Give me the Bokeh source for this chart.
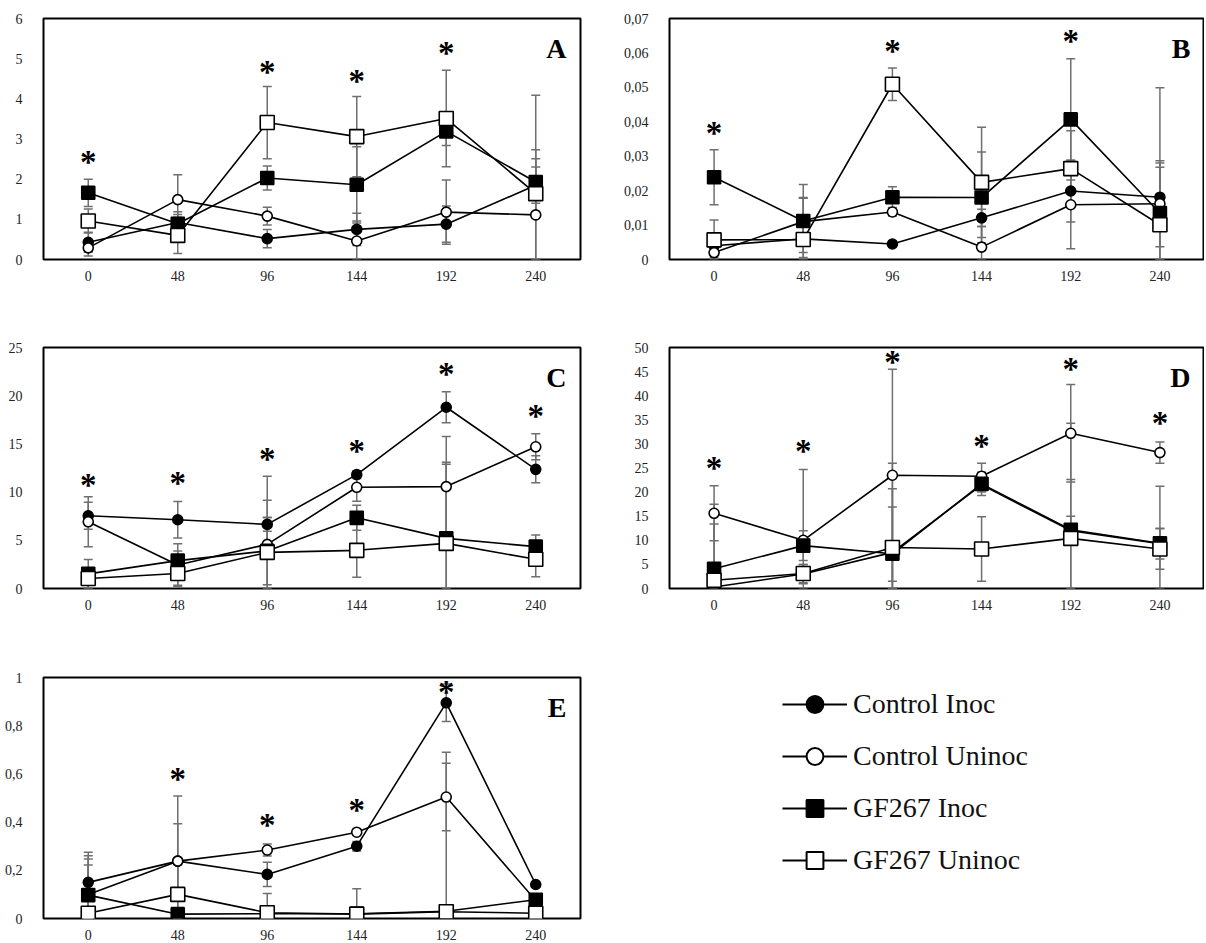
from bokeh.plotting import figure
from bokeh.models import (Range1d, FixedTicker, Whisker, TeeHead, ColumnDataSource,
                          Label, Legend, LegendItem, CustomJSTickFormatter)
from bokeh.layouts import column, row
from bokeh.embed import file_html
from bokeh.resources import INLINE
from bokeh.core.properties import value

# ---------------- data ----------------
hours = [0, 48, 96, 144, 192, 240]
series_names = ["Control Inoc", "Control Uninoc", "GF267 Inoc", "GF267 Uninoc"]

# Panel A
A_ctrl_inoc = [0.43, 0.92, 0.52, 0.75, 0.88, 1.85]
A_ctrl_inoc_sd = [0.25, 0.20, 0.23, 0.40, 0.45, 0.45]
A_ctrl_uninoc = [0.29, 1.49, 1.08, 0.46, 1.18, 1.11]
A_ctrl_uninoc_sd = [0.20, 0.62, 0.22, 0.50, 0.80, 1.40]
A_gf_inoc = [1.66, 0.89, 2.03, 1.86, 3.19, 1.93]
A_gf_inoc_sd = [0.34, 0.30, 0.30, 0.95, 0.35, 0.80]
A_gf_uninoc = [0.96, 0.60, 3.41, 3.06, 3.51, 1.64]
A_gf_uninoc_sd = [0.30, 0.45, 0.90, 1.00, 1.20, 2.45]
A_sig_x = [0, 96, 144, 192]
A_sig_y = [2.53, 4.78, 4.55, 5.24]
A_yticks = [0, 1, 2, 3, 4, 5, 6]

# Panel B
B_ctrl_inoc = [0.004, 0.006, 0.0045, 0.0121, 0.0199, 0.0181]
B_ctrl_inoc_sd = [0.002, 0.004, 0.0008, 0.0025, 0.009, 0.0087]
B_ctrl_uninoc = [0.002, 0.011, 0.0138, 0.0036, 0.0159, 0.0162]
B_ctrl_uninoc_sd = [0.0015, 0.007, 0.0012, 0.006, 0.0128, 0.0125]
B_gf_inoc = [0.0239, 0.0112, 0.0181, 0.018, 0.0407, 0.0135]
B_gf_inoc_sd = [0.008, 0.0106, 0.003, 0.0132, 0.0176, 0.0145]
B_gf_uninoc = [0.0057, 0.0058, 0.0509, 0.0224, 0.0264, 0.0101]
B_gf_uninoc_sd = [0.0058, 0.012, 0.0047, 0.016, 0.011, 0.0398]
B_sig_x = [0, 96, 192]
B_sig_y = [0.038, 0.0616, 0.0647]
B_yticks = [0, 0.01, 0.02, 0.03, 0.04, 0.05, 0.06, 0.07]

# Panel C
C_ctrl_inoc = [7.54, 7.13, 6.65, 11.81, 18.8, 12.36]
C_ctrl_inoc_sd = [1.4, 1.9, 0.7, 0.4, 1.6, 1.4]
C_ctrl_uninoc = [6.92, 2.44, 4.58, 10.5, 10.57, 14.7]
C_ctrl_uninoc_sd = [2.6, 2.2, 7.06, 1.45, 5.2, 1.35]
C_gf_inoc = [1.52, 2.89, 3.9, 7.33, 5.2, 4.34]
C_gf_inoc_sd = [1.5, 1.0, 3.5, 1.3, 7.9, 1.2]
C_gf_uninoc = [1.03, 1.55, 3.75, 3.96, 4.68, 3.03]
C_gf_uninoc_sd = [1.0, 1.2, 5.4, 2.8, 8.2, 1.8]
C_sig_x = [0, 48, 96, 144, 192, 240]
C_sig_y = [11.2, 11.4, 13.9, 14.7, 22.7, 18.3]
C_yticks = [0, 5, 10, 15, 20, 25]

# Panel D
D_ctrl_inoc = [0.3, 3.0, 7.5, 21.5, 12.0, 9.3]
D_ctrl_inoc_sd = [17.2, 2.0, 9.4, 1.5, 3.0, 3.2]
D_ctrl_uninoc = [15.6, 10.0, 23.5, 23.3, 32.2, 28.2]
D_ctrl_uninoc_sd = [5.7, 14.7, 22.0, 2.7, 10.1, 2.2]
D_gf_inoc = [4.1, 8.9, 7.2, 21.7, 12.2, 9.4]
D_gf_inoc_sd = [9.3, 3.1, 13.5, 2.4, 22.1, 11.8]
D_gf_uninoc = [1.7, 3.1, 8.5, 8.2, 10.4, 8.2]
D_gf_uninoc_sd = [2.0, 1.9, 17.5, 6.7, 12.2, 4.2]
D_sig_x = [0, 48, 96, 144, 192, 240]
D_sig_y = [25.9, 29.3, 47.8, 30.4, 46.3, 35.2]
D_yticks = [0, 5, 10, 15, 20, 25, 30, 35, 40, 45, 50]

# Panel E
E_ctrl_inoc = [0.15, 0.238, 0.183, 0.30, 0.895, 0.141]
E_ctrl_inoc_sd = [0.125, 0.155, 0.05, 0.02, 0.078, 0.01]
E_ctrl_uninoc = [0.10, 0.238, 0.284, 0.358, 0.504, 0.075]
E_ctrl_uninoc_sd = [0.16, 0.27, 0.025, 0.01, 0.14, 0.01]
E_gf_inoc = [0.097, 0.018, 0.02, 0.02, 0.03, 0.078]
E_gf_inoc_sd = [0.15, 0.02, 0.01, 0.01, 0.66, 0.01]
E_gf_uninoc = [0.022, 0.10, 0.024, 0.018, 0.028, 0.022]
E_gf_uninoc_sd = [0.20, 0.15, 0.08, 0.105, 0.01, 0.005]
E_sig_x = [48, 96, 144, 192]
E_sig_y = [0.596, 0.404, 0.466, 0.955]
E_yticks = [0, 0.2, 0.4, 0.6, 0.8, 1]

# ---------------- styles ----------------
FONT = "Liberation Serif"
ERR_COLOR = "#6f6f6f"
STYLES = [
    dict(marker="circle", size=10, fill_color="black"),
    dict(marker="circle", size=10, fill_color="white"),
    dict(marker="square", size=13, fill_color="black"),
    dict(marker="square", size=14, fill_color="white"),
]

comma_fmt = CustomJSTickFormatter(code="return String(tick).replace('.', ',');")


def make_panel(letter, ymax, yticks, means, sds, sig_x, sig_y,
               frame_w, left, right, top, bottom, xstand):
    p = figure(frame_width=frame_w, frame_height=241,
               x_range=Range1d(-24, 264), y_range=Range1d(0, ymax),
               output_backend="svg", toolbar_location=None,
               min_border_left=left, min_border_right=right,
               min_border_top=top, min_border_bottom=bottom)
    p.xgrid.visible = False
    p.ygrid.visible = False
    p.outline_line_color = "black"
    p.outline_line_width = 2
    p.background_fill_color = "white"
    p.border_fill_color = "white"
    for ax in (p.xaxis[0], p.yaxis[0]):
        ax.axis_line_color = None
        ax.major_tick_line_color = None
        ax.minor_tick_line_color = None
        ax.major_label_text_font = FONT
        ax.major_label_text_font_size = "14px"
        ax.major_label_text_color = "#222222"
    p.xaxis.ticker = FixedTicker(ticks=hours)
    p.xaxis.major_label_standoff = xstand
    p.yaxis.ticker = FixedTicker(ticks=yticks)
    p.yaxis.formatter = comma_fmt
    p.yaxis.major_label_standoff = 15

    # error bars
    for m, s in zip(means, sds):
        src = ColumnDataSource(dict(
            x=hours,
            upper=[a + b for a, b in zip(m, s)],
            lower=[max(0.0, a - b) for a, b in zip(m, s)]))
        w = Whisker(base="x", upper="upper", lower="lower", source=src,
                    line_color=ERR_COLOR, line_width=1.5,
                    upper_head=TeeHead(size=9, line_color=ERR_COLOR, line_width=1.5),
                    lower_head=TeeHead(size=9, line_color=ERR_COLOR, line_width=1.5))
        p.add_layout(w)

    # lines + markers
    for m, st in zip(means, STYLES):
        p.line(hours, m, line_color="black", line_width=1.6)
    for m, st in zip(means, STYLES):
        p.scatter(hours, m, marker=st["marker"], size=st["size"],
                  fill_color=st["fill_color"], line_color="black", line_width=1.6)

    # significance asterisks
    p.text(x=sig_x, y=sig_y, text=["*"] * len(sig_x), text_font=value(FONT),
           text_font_style="bold", text_font_size="33px", text_align="center",
           text_baseline="alphabetic", y_offset=4, text_color="black")

    # panel letter
    p.add_layout(Label(x=264, y=ymax, x_offset=-14, y_offset=-14, text=letter,
                       text_font=FONT, text_font_style="bold",
                       text_font_size="28px", text_align="right",
                       text_baseline="top", text_color="black"))
    return p


pA = make_panel("A", 6, A_yticks,
                [A_ctrl_inoc, A_ctrl_uninoc, A_gf_inoc, A_gf_uninoc],
                [A_ctrl_inoc_sd, A_ctrl_uninoc_sd, A_gf_inoc_sd, A_gf_uninoc_sd],
                A_sig_x, A_sig_y, 537, 43, 10, 18, 40, 5)
pB = make_panel("B", 0.07, B_yticks,
                [B_ctrl_inoc, B_ctrl_uninoc, B_gf_inoc, B_gf_uninoc],
                [B_ctrl_inoc_sd, B_ctrl_uninoc_sd, B_gf_inoc_sd, B_gf_uninoc_sd],
                B_sig_x, B_sig_y, 535, 79, 0, 18, 40, 5)
pC = make_panel("C", 25, C_yticks,
                [C_ctrl_inoc, C_ctrl_uninoc, C_gf_inoc, C_gf_uninoc],
                [C_ctrl_inoc_sd, C_ctrl_uninoc_sd, C_gf_inoc_sd, C_gf_uninoc_sd],
                C_sig_x, C_sig_y, 537, 43, 10, 48, 40, 5)
pD = make_panel("D", 50, D_yticks,
                [D_ctrl_inoc, D_ctrl_uninoc, D_gf_inoc, D_gf_uninoc],
                [D_ctrl_inoc_sd, D_ctrl_uninoc_sd, D_gf_inoc_sd, D_gf_uninoc_sd],
                D_sig_x, D_sig_y, 535, 79, 0, 48, 40, 5)
pE = make_panel("E", 1, E_yticks,
                [E_ctrl_inoc, E_ctrl_uninoc, E_gf_inoc, E_gf_uninoc],
                [E_ctrl_inoc_sd, E_ctrl_uninoc_sd, E_gf_inoc_sd, E_gf_uninoc_sd],
                E_sig_x, E_sig_y, 537, 43, 10, 49, 23, 5)

# ---------------- legend panel ----------------
# The key's renderers hold panel E's series, but this panel's y-range lies
# above all of them, so only the legend entries are seen here.
pL = figure(width=615, height=313, x_range=Range1d(-24, 264), y_range=Range1d(5, 6),
            output_backend="svg", toolbar_location=None, min_border=0,
            x_axis_location=None, y_axis_location=None)
pL.grid.visible = False
pL.outline_line_color = None
pL.border_fill_color = "white"
items = []
for name, m, st in zip(series_names,
                       [E_ctrl_inoc, E_ctrl_uninoc, E_gf_inoc, E_gf_uninoc], STYLES):
    rl = pL.line(hours, m, line_color="black", line_width=2.2)
    rm = pL.scatter(hours, m, marker=st["marker"], size=st["size"],
                    fill_color=st["fill_color"], line_color="black", line_width=2)
    items.append(LegendItem(label=name, renderers=[rl, rm]))
legend = Legend(items=items, location=(192, 36), orientation="vertical",
                glyph_width=65, glyph_height=42, spacing=10, label_standoff=6,
                padding=0, margin=0, border_line_color=None,
                background_fill_alpha=0, label_text_font=FONT,
                label_text_font_size="28px", label_text_color="#111111",
                label_height=42)
pL.add_layout(legend)

layout = column(row(pA, pB), row(pC, pD), row(pE, pL))
open("out.html", "w").write(file_html(layout, INLINE))
